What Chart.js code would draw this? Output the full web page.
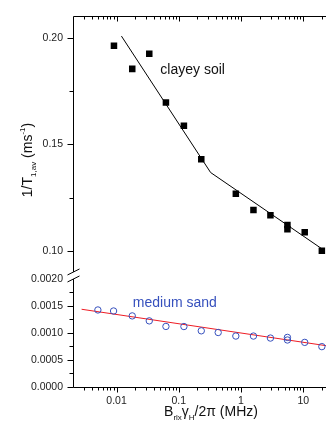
<!DOCTYPE html>
<html>
<head>
<meta charset="utf-8">
<script src="https://cdn.jsdelivr.net/npm/chart.js@4.4.0/dist/chart.umd.min.js"></script>
<style>
  html, body { margin: 0; padding: 0; background: #fff; }
  canvas { display: block; }
</style>
</head>
<body>
<canvas id="relaxChart" width="331" height="424"></canvas>
<script>
// clayey soil (black squares) + fit
const clayX = [0.0091, 0.0179, 0.0336, 0.0622, 0.121, 0.230, 0.826, 1.585, 2.97, 5.57, 5.57, 10.56, 19.9];
const clayY = [0.1964, 0.1855, 0.1926, 0.1697, 0.1588, 0.1430, 0.1268, 0.1192, 0.1167, 0.1121, 0.1102, 0.1087, 0.1001];
const clayFitX = [0.0120, 0.325, 21.0];
const clayFitY = [0.2009, 0.1368, 0.1005];

// medium sand (blue circles) + fit
const sandX = [0.00502, 0.00897, 0.0179, 0.0336, 0.0622, 0.121, 0.230, 0.430, 0.826, 1.585, 2.97, 5.57, 5.57, 10.56, 19.9];
const sandY = [0.001426, 0.001407, 0.001316, 0.001224, 0.001121, 0.001119, 0.001040, 0.001009, 0.000943, 0.000943, 0.000906, 0.000918, 0.000870, 0.000826, 0.000747];
const sandFitX = [0.00275, 23.2];
const sandFitY = [0.001439, 0.000765];

// ticks
const xMajor = [0.01, 0.1, 1, 10];
const xMajorLabels = ["0.01", "0.1", "1", "10"];
const yTopMajor = [0.10, 0.15, 0.20];
const yTopMinor = [0.125, 0.175];
const yBotMajor = [0.0000, 0.0005, 0.0010, 0.0015, 0.0020];
const yBotMinor = [0.00025, 0.00075, 0.00125, 0.00175];

const FONT = "'Liberation Sans', Arial, sans-serif";

function pts(xs, ys) {
  return xs.map((x, i) => ({ x: x, y: ys[i] }));
}

function xMinorTicks(min, max) {
  const out = [];
  for (let e = -3; e <= 1; e++) {
    for (let k = 2; k <= 9; k++) {
      const v = k * Math.pow(10, e);
      if (v > min && v < max) out.push(v);
    }
  }
  return out;
}

// draws text pieces with sub/superscripts, centred on (0,0) baseline
function drawRich(ctx, parts) {
  let total = 0;
  parts.forEach(p => {
    ctx.font = p.size + "px " + FONT;
    p.w = ctx.measureText(p.t).width;
    total += p.w;
  });
  let x = -total / 2;
  parts.forEach(p => {
    ctx.font = p.size + "px " + FONT;
    ctx.fillText(p.t, x, p.dy || 0);
    x += p.w;
  });
}

const frame = {
  id: "frame",
  afterDraw(chart) {
    const { ctx, chartArea: a, scales } = chart;
    const x = scales.x, yTop = scales.yTop, yBot = scales.yBot;
    const L = Math.round(a.left) + 0.5;
    const T = Math.round(a.top) + 0.5;
    const B = Math.round(a.bottom) + 0.5;
    const R = a.right;
    const breakY = yBot.top;

    ctx.save();
    ctx.strokeStyle = "#000";
    ctx.lineWidth = 1;
    ctx.beginPath();
    // top frame + bottom axis
    ctx.moveTo(L, T); ctx.lineTo(R, T);
    ctx.moveTo(L, B); ctx.lineTo(R, B);
    // left axis, broken
    ctx.moveTo(L, T); ctx.lineTo(L, breakY - 7);
    ctx.moveTo(L, breakY); ctx.lineTo(L, B);

    // x ticks (bottom outward, top inward)
    const minors = xMinorTicks(x.min, x.max);
    xMajor.forEach(v => {
      const px = Math.round(x.getPixelForValue(v)) + 0.5;
      ctx.moveTo(px, B); ctx.lineTo(px, B + 5);
      ctx.moveTo(px, T); ctx.lineTo(px, T + 5);
    });
    minors.forEach(v => {
      const px = Math.round(x.getPixelForValue(v)) + 0.5;
      ctx.moveTo(px, B); ctx.lineTo(px, B + 3);
      ctx.moveTo(px, T); ctx.lineTo(px, T + 3);
    });

    // y ticks outward
    yTopMajor.forEach(v => {
      const py = Math.round(yTop.getPixelForValue(v)) + 0.5;
      ctx.moveTo(L, py); ctx.lineTo(L - 6, py);
    });
    yTopMinor.forEach(v => {
      const py = Math.round(yTop.getPixelForValue(v)) + 0.5;
      ctx.moveTo(L, py); ctx.lineTo(L - 4, py);
    });
    yBotMajor.forEach(v => {
      const py = Math.round(yBot.getPixelForValue(v)) + 0.5;
      if (v === 0.0020) return;
      ctx.moveTo(L, py); ctx.lineTo(L - 6, py);
    });
    yBotMinor.forEach(v => {
      const py = Math.round(yBot.getPixelForValue(v)) + 0.5;
      ctx.moveTo(L, py); ctx.lineTo(L - 4, py);
    });

    // break marks
    ctx.moveTo(L - 6, breakY - 4); ctx.lineTo(L + 6, breakY - 10);
    ctx.moveTo(L - 6, breakY + 3); ctx.lineTo(L + 6, breakY - 3);
    ctx.stroke();

    // annotations
    ctx.textAlign = "left";
    ctx.textBaseline = "middle";
    ctx.font = "14px " + FONT;
    ctx.fillStyle = "#111";
    ctx.fillText("clayey soil", x.getPixelForValue(0.0506), yTop.getPixelForValue(0.1847));
    ctx.fillStyle = "#3650bd";
    ctx.fillText("medium sand", x.getPixelForValue(0.0183), yBot.getPixelForValue(0.001554));

    // axis titles
    ctx.fillStyle = "#111";
    ctx.textAlign = "left";
    ctx.textBaseline = "alphabetic";
    ctx.save();
    ctx.translate(211, 416);
    drawRich(ctx, [
      { t: "B", size: 14 },
      { t: "rlx", size: 8, dy: 4 },
      { t: "\u03b3", size: 14 },
      { t: "H", size: 8, dy: 4 },
      { t: "/2\u03c0 (MHz)", size: 14 }
    ]);
    ctx.restore();

    ctx.save();
    ctx.translate(32, 160);
    ctx.rotate(-Math.PI / 2);
    drawRich(ctx, [
      { t: "1/T", size: 14 },
      { t: "1,av", size: 8, dy: 4 },
      { t: " (ms", size: 14 },
      { t: "-1", size: 8, dy: -7 },
      { t: ")", size: 14 }
    ]);
    ctx.restore();
    ctx.restore();
  }
};

const tickFont = { family: FONT, size: 10.5 };

new Chart(document.getElementById("relaxChart"), {
  type: "scatter",
  data: {
    datasets: [
      {
        label: "clayey soil",
        data: pts(clayX, clayY),
        yAxisID: "yTop",
        pointStyle: "rect",
        pointRadius: 4.6,
        backgroundColor: "#000",
        borderWidth: 0
      },
      {
        label: "clayey fit",
        type: "line",
        data: pts(clayFitX, clayFitY),
        yAxisID: "yTop",
        borderColor: "#000",
        borderWidth: 1,
        pointRadius: 0,
        fill: false
      },
      {
        label: "medium sand",
        data: pts(sandX, sandY),
        yAxisID: "yBot",
        pointStyle: "circle",
        pointRadius: 3.2,
        backgroundColor: "rgba(255,255,255,0)",
        borderColor: "#3650bd",
        borderWidth: 1
      },
      {
        label: "sand fit",
        type: "line",
        data: pts(sandFitX, sandFitY),
        yAxisID: "yBot",
        borderColor: "#ee1c24",
        borderWidth: 1,
        pointRadius: 0,
        fill: false
      }
    ]
  },
  options: {
    responsive: false,
    animation: false,
    devicePixelRatio: 1,
    layout: { padding: { top: 12, right: 0, left: 0, bottom: 0 } },
    plugins: {
      legend: { display: false },
      tooltip: { enabled: false }
    },
    scales: {
      x: {
        type: "logarithmic",
        position: "bottom",
        min: 0.002,
        max: 23.2,
        border: { display: false },
        grid: { display: true, drawOnChartArea: false, drawTicks: false },
        afterBuildTicks: s => { s.ticks = xMajor.map(v => ({ value: v })); },
        afterFit: s => { s.height = 37; },
        ticks: {
          autoSkip: false,
          maxRotation: 0,
          padding: 8,
          color: "#222",
          font: tickFont,
          callback: v => {
            const i = xMajor.indexOf(v);
            return i >= 0 ? xMajorLabels[i] : "";
          }
        }
      },
      yTop: {
        type: "linear",
        position: "left",
        stack: "y",
        stackWeight: 265.7,
        weight: 2,
        min: 0.0868,
        max: 0.2102,
        border: { display: false },
        grid: { display: true, drawOnChartArea: false, drawTicks: false },
        afterBuildTicks: s => { s.ticks = yTopMajor.map(v => ({ value: v })); },
        afterFit: s => { s.width = 73; },
        ticks: {
          autoSkip: false,
          padding: 10,
          color: "#222",
          font: tickFont,
          callback: v => v.toFixed(2)
        }
      },
      yBot: {
        type: "linear",
        position: "left",
        stack: "y",
        stackWeight: 109.3,
        weight: 1,
        min: 0,
        max: 0.0020,
        border: { display: false },
        grid: { display: true, drawOnChartArea: false, drawTicks: false },
        afterBuildTicks: s => { s.ticks = yBotMajor.map(v => ({ value: v })); },
        afterFit: s => { s.width = 73; },
        ticks: {
          autoSkip: false,
          padding: 10,
          color: "#222",
          font: tickFont,
          callback: v => v.toFixed(4)
        }
      }
    }
  },
  plugins: [frame]
});
</script>
</body>
</html>
